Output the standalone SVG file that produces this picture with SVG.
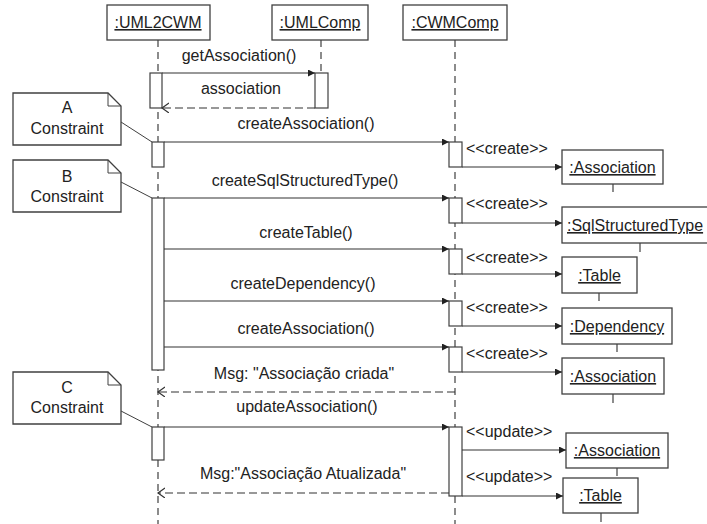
<svg xmlns="http://www.w3.org/2000/svg" width="707" height="524" viewBox="0 0 707 524">
  <style>
    text { font-family: "Liberation Sans", Arial, sans-serif; font-size: 16px; fill: #222; }
    .c { text-anchor: middle; }
    .u { text-decoration: underline; }
    .box { fill: #fff; stroke: #404040; stroke-width: 1.3; }
    .life { stroke: #404040; stroke-width: 1.2; stroke-dasharray: 7 5; fill: none; }
    .tick { stroke: #404040; stroke-width: 1.2; fill: none; }
    .act { fill: #fff; stroke: #404040; stroke-width: 1.2; }
    .msg { stroke: #333; stroke-width: 1.2; fill: none; marker-end: url(#filled); }
    .ret { stroke: #333; stroke-width: 1.2; fill: none; stroke-dasharray: 8 4; marker-end: url(#open); }
    .link { stroke: #404040; stroke-width: 1; fill: none; }
  </style>
  <defs>
    <marker id="filled" markerWidth="8" markerHeight="8" refX="7" refY="3.5" orient="auto" markerUnits="userSpaceOnUse">
      <path d="M0,0 L7,3.5 L0,7 Z" fill="#222"/>
    </marker>
    <marker id="open" markerWidth="10" markerHeight="12" refX="7" refY="5" orient="auto" markerUnits="userSpaceOnUse">
      <path d="M0,0 L7,5 L0,10" fill="none" stroke="#333" stroke-width="1.2" stroke-dasharray="none"/>
    </marker>
  </defs>

  <!-- lifelines -->
  <g id="uml2cwm">
    <line class="life" x1="158" y1="40" x2="158" y2="524"/>
    <rect class="box" x="107" y="5" width="103" height="35"/>
    <text class="c u" x="158" y="28">:UML2CWM</text>
    <rect class="act" x="150" y="73" width="12" height="35"/>
    <rect class="act" x="152" y="142" width="12" height="25"/>
    <rect class="act" x="152" y="198" width="12" height="172"/>
    <rect class="act" x="152" y="427" width="12" height="33"/>
  </g>
  <g id="umlcomp">
    <line class="life" x1="321" y1="40" x2="321" y2="73"/>
    <rect class="box" x="272" y="5" width="96" height="35"/>
    <text class="c u" x="320" y="28">:UMLComp</text>
    <rect class="act" x="315" y="73" width="13" height="35"/>
  </g>
  <g id="cwmcomp">
    <line class="life" x1="455" y1="40" x2="455" y2="524"/>
    <rect class="box" x="403" y="5" width="104" height="35"/>
    <text class="c u" x="455" y="28">:CWMComp</text>
    <rect class="act" x="449" y="142" width="13" height="25"/>
    <rect class="act" x="449" y="198" width="13" height="25"/>
    <rect class="act" x="449" y="249" width="13" height="25"/>
    <rect class="act" x="449" y="301" width="13" height="25"/>
    <rect class="act" x="449" y="347" width="13" height="25"/>
    <rect class="act" x="449" y="427" width="13" height="69"/>
  </g>

  <!-- created / updated objects -->
  <g id="association1">
    <rect class="box" x="562" y="150" width="101" height="34"/>
    <line class="tick" x1="613" y1="184" x2="613" y2="192"/>
    <text class="c u" x="612.5" y="173">:Association</text>
  </g>
  <g id="sqlstructuredtype">
    <rect class="box" x="562" y="207" width="158" height="36"/>
    <line class="tick" x1="640" y1="243" x2="640" y2="252"/>
    <text class="u" x="567" y="231">:SqlStructuredType</text>
  </g>
  <g id="table1">
    <rect class="box" x="562" y="257" width="75" height="36"/>
    <line class="tick" x1="599" y1="293" x2="599" y2="301"/>
    <text class="c u" x="599.5" y="281">:Table</text>
  </g>
  <g id="dependency">
    <rect class="box" x="562" y="308" width="110" height="36"/>
    <line class="tick" x1="617" y1="344" x2="617" y2="352"/>
    <text class="c u" x="617" y="332">:Dependency</text>
  </g>
  <g id="association2">
    <rect class="box" x="562" y="358" width="102" height="36"/>
    <line class="tick" x1="613" y1="394" x2="613" y2="403"/>
    <text class="c u" x="613" y="382">:Association</text>
  </g>
  <g id="association3">
    <rect class="box" x="566" y="433" width="102" height="35"/>
    <line class="tick" x1="617" y1="468" x2="617" y2="476"/>
    <text class="c u" x="617" y="456">:Association</text>
  </g>
  <g id="table2">
    <rect class="box" x="563" y="478" width="75" height="35"/>
    <line class="tick" x1="601" y1="513" x2="601" y2="522"/>
    <text class="c u" x="600.5" y="501">:Table</text>
  </g>

  <!-- constraint notes -->
  <g id="note-a">
    <path class="box" d="M13,93 H108 L121,106 V145 H13 Z"/>
    <path class="link" d="M108,93 V106 H121"/>
    <text class="c" x="67" y="113">A</text>
    <text class="c" x="67" y="134">Constraint</text>
  </g>
  <g id="note-b">
    <path class="box" d="M13,160 H108 L121,173 V212 H13 Z"/>
    <path class="link" d="M108,160 V173 H121"/>
    <text class="c" x="67" y="182">B</text>
    <text class="c" x="67" y="202">Constraint</text>
  </g>
  <g id="note-c">
    <path class="box" d="M13,372 H108 L121,385 V424 H13 Z"/>
    <path class="link" d="M108,372 V385 H121"/>
    <text class="c" x="67" y="393">C</text>
    <text class="c" x="67" y="413">Constraint</text>
  </g>

  <!-- messages -->
  <g id="connectors">
    <line class="link" x1="121" y1="122" x2="152" y2="142"/>
    <line class="link" x1="121" y1="182" x2="152" y2="198"/>
    <line class="link" x1="121" y1="411" x2="152" y2="427"/>

    <line class="msg" x1="162" y1="73" x2="315" y2="73"/>
    <line class="ret" x1="315" y1="108" x2="162" y2="108"/>

    <line class="msg" x1="164" y1="142" x2="449" y2="142"/>
    <line class="msg" x1="164" y1="198" x2="449" y2="198"/>
    <line class="msg" x1="164" y1="249" x2="449" y2="249"/>
    <line class="msg" x1="164" y1="301" x2="449" y2="301"/>
    <line class="msg" x1="164" y1="347" x2="449" y2="347"/>
    <line class="ret" x1="455" y1="392" x2="158" y2="392"/>
    <line class="msg" x1="164" y1="427" x2="449" y2="427"/>
    <line class="ret" x1="449" y1="493" x2="158" y2="493"/>

    <line class="msg" x1="462" y1="167" x2="562" y2="167"/>
    <line class="msg" x1="462" y1="223" x2="562" y2="223"/>
    <line class="msg" x1="462" y1="274" x2="562" y2="274"/>
    <line class="msg" x1="462" y1="326" x2="562" y2="326"/>
    <line class="msg" x1="462" y1="372" x2="562" y2="372"/>
    <line class="msg" x1="462" y1="450" x2="566" y2="450"/>
    <line class="msg" x1="462" y1="496" x2="563" y2="496"/>

    <text class="c" x="239" y="61">getAssociation()</text>
    <text class="c" x="241" y="94">association</text>
    <text class="c" x="306" y="129">createAssociation()</text>
    <text class="c" x="305" y="186">createSqlStructuredType()</text>
    <text class="c" x="306" y="238">createTable()</text>
    <text class="c" x="303" y="289">createDependency()</text>
    <text class="c" x="306" y="334">createAssociation()</text>
    <text class="c" x="304" y="379">Msg: "Associação criada"</text>
    <text class="c" x="307" y="412">updateAssociation()</text>
    <text class="c" x="303" y="479">Msg:"Associação Atualizada"</text>

    <text x="466" y="154">&lt;&lt;create&gt;&gt;</text>
    <text x="466" y="209">&lt;&lt;create&gt;&gt;</text>
    <text x="466" y="263">&lt;&lt;create&gt;&gt;</text>
    <text x="466" y="313">&lt;&lt;create&gt;&gt;</text>
    <text x="466" y="359">&lt;&lt;create&gt;&gt;</text>
    <text x="466" y="437">&lt;&lt;update&gt;&gt;</text>
    <text x="466" y="482">&lt;&lt;update&gt;&gt;</text>
  </g>
</svg>
